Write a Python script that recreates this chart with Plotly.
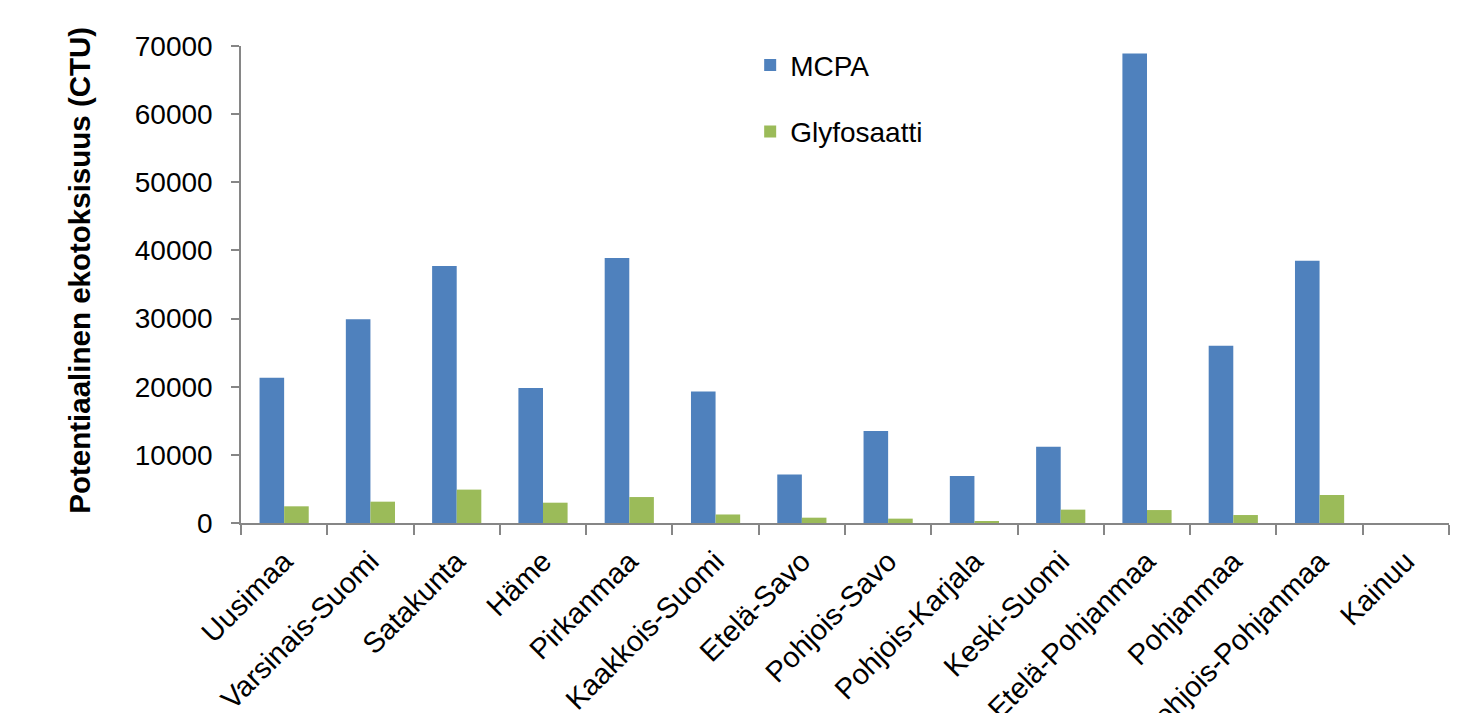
import plotly.graph_objects as go

# Regions and potential ecotoxicity (CTU) per herbicide
regions = ["Uusimaa", "Varsinais-Suomi", "Satakunta", "Häme", "Pirkanmaa",
           "Kaakkois-Suomi", "Etelä-Savo", "Pohjois-Savo", "Pohjois-Karjala",
           "Keski-Suomi", "Etelä-Pohjanmaa", "Pohjanmaa", "Pohjois-Pohjanmaa",
           "Kainuu"]
mcpa = [21300, 29900, 37700, 19800, 38900, 19300, 7100, 13500, 6900,
        11200, 68900, 26000, 38500, 0]
glyfosaatti = [2450, 3130, 4900, 2980, 3810, 1250, 780, 640, 250,
               1960, 1900, 1170, 4110, 0]

y_ticks = [0, 10000, 20000, 30000, 40000, 50000, 60000, 70000]

FONT = "Liberation Sans, Arial, sans-serif"
AXIS_GREY = "#868686"

fig = go.Figure()
fig.add_trace(go.Bar(
    x=regions, y=mcpa, name="MCPA", legendgroup="a",
    marker=dict(color="#4F81BD", line=dict(width=0)),
))
fig.add_trace(go.Bar(
    x=regions, y=glyfosaatti, name="Glyfosaatti", legendgroup="b",
    marker=dict(color="#9BBB59", line=dict(width=0)),
))

fig.update_layout(
    width=1464, height=713,
    margin=dict(l=241, r=15, t=46, b=190, autoexpand=False),
    paper_bgcolor="white", plot_bgcolor="white",
    font=dict(family=FONT, size=27, color="#000000"),
    barmode="group", bargap=0.43, bargroupgap=0,
    showlegend=True,
    legend=dict(
        x=0.4215, y=1.012, xanchor="left", yanchor="top",
        traceorder="grouped", tracegroupgap=27,
        font=dict(family=FONT, size=28, color="#000000"),
        bgcolor="rgba(0,0,0,0)",
    ),
    xaxis=dict(
        type="category", tickson="boundaries", ticks="outside", ticklen=10,
        tickcolor=AXIS_GREY, tickwidth=1.5,
        showline=True, linecolor=AXIS_GREY, linewidth=1.5,
        showgrid=False, tickangle=-45, automargin=False,
        ticklabelstandoff=8,
        tickfont=dict(family=FONT, size=29, color="#000000"),
    ),
    yaxis=dict(
        range=[0, 70000], tickvals=y_ticks, tickformat="d",
        ticks="outside", ticklen=8, tickcolor=AXIS_GREY, tickwidth=1.5,
        showline=True, linecolor=AXIS_GREY, linewidth=1.5,
        showgrid=False, zeroline=False, automargin=False,
        ticklabelstandoff=13,
        tickfont=dict(family=FONT, size=28, color="#000000"),
    ),
    annotations=[dict(
        text="<b>Potentiaalinen ekotoksisuus (CTU)</b>",
        xref="paper", yref="paper", x=0, y=0.529,
        xanchor="center", yanchor="middle", xshift=-161,
        textangle=-90, showarrow=False,
        font=dict(family=FONT, size=29.5, color="#000000"),
    )],
)

fig.write_html("out.html")
